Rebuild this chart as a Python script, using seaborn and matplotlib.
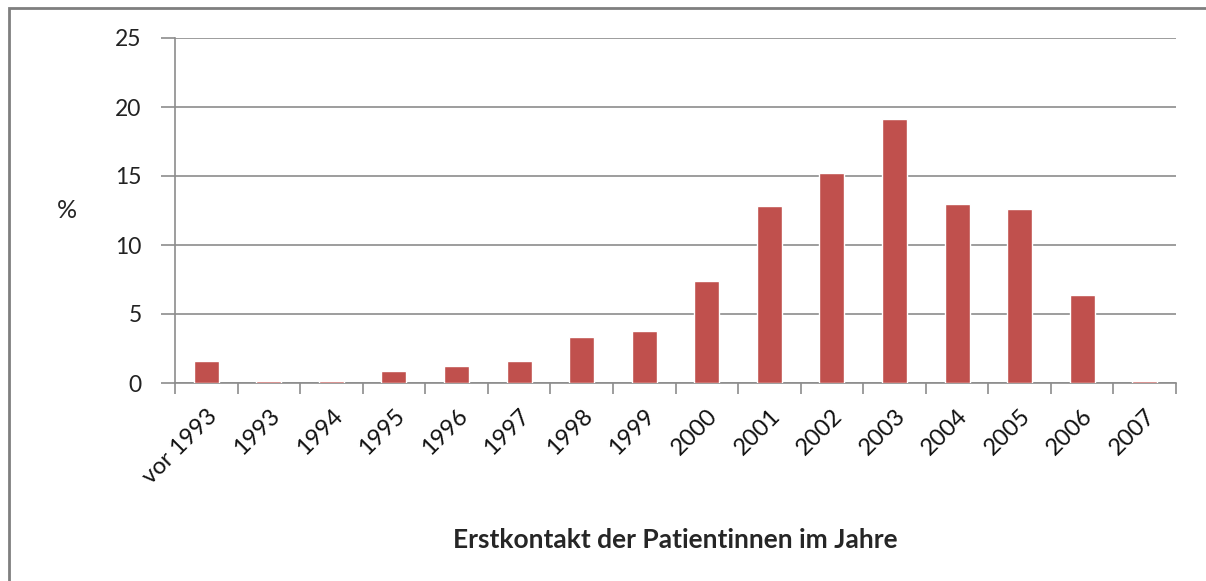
import numpy as np
import pandas as pd
import matplotlib
matplotlib.use('Agg')
import matplotlib.pyplot as plt
from matplotlib.patches import Rectangle
import seaborn as sns

## data
jahre = ['vor 1993', '1993', '1994', '1995', '1996', '1997', '1998', '1999',
         '2000', '2001', '2002', '2003', '2004', '2005', '2006', '2007']
prozent = [1.6, 0.15, 0.15, 0.9, 1.2, 1.6, 3.3, 3.8,
           7.4, 12.8, 15.2, 19.1, 13.0, 12.6, 6.4, 0.15]
y_ticks = [0, 5, 10, 15, 20, 25]

df = pd.DataFrame({'jahr': jahre, 'prozent': prozent})

sns.set_style('white')
plt.rcParams['font.family'] = ['Lato', 'DejaVu Sans']

fig = plt.figure(figsize=(12.06, 5.81), dpi=100)
ax = fig.add_axes([175 / 1206, 1 - 383 / 581, (1176 - 175) / 1206, (383 - 38) / 581])

sns.barplot(data=df, x='jahr', y='prozent', color='#C0504D', saturation=1,
            width=0.4, ax=ax, zorder=3)

ax.set_xlim(-0.5, len(jahre) - 0.5)
ax.set_ylim(0, 25)
ax.set_yticks(y_ticks)
ax.set_yticklabels([str(t) for t in y_ticks], fontsize=16.5, color='#222222')
ax.yaxis.grid(True, color='#8c8c8c', linewidth=1.2, zorder=0)

# category boundary ticks like the original
ax.set_xticks(np.arange(len(jahre)))
ax.set_xticklabels(jahre, rotation=45, ha='right', rotation_mode='anchor',
                   fontsize=17, color='#111111')
ax.set_xticks(np.arange(-0.5, len(jahre)), minor=True)
ax.tick_params(axis='x', which='major', length=0, pad=16)
ax.tick_params(axis='x', which='minor', length=8, width=1.2, color='#8c8c8c',
               direction='out', bottom=True)
ax.tick_params(axis='y', which='major', length=10, width=1.2, color='#8c8c8c',
               direction='out', left=True, pad=14)

for side in ['top', 'right']:
    ax.spines[side].set_visible(False)
for side in ['left', 'bottom']:
    ax.spines[side].set_color('#8c8c8c')
    ax.spines[side].set_linewidth(1.2)

ax.set_xlabel('Erstkontakt der Patientinnen im Jahre', fontsize=19,
              fontweight='bold')
ax.set_ylabel('%', fontsize=18, rotation=0, va='center', ha='center')
ax.yaxis.set_label_coords(-0.108, 0.5)
ax.xaxis.set_label_coords(0.5, -0.42)

# outer chart frame
fig.add_artist(Rectangle((9 / 1206, -0.2), 1.3, 1.2 - 8 / 581,
                         transform=fig.transFigure, fill=False,
                         edgecolor='#7f7f7f', linewidth=2, clip_on=False))

fig.savefig('out.png', dpi=100)
